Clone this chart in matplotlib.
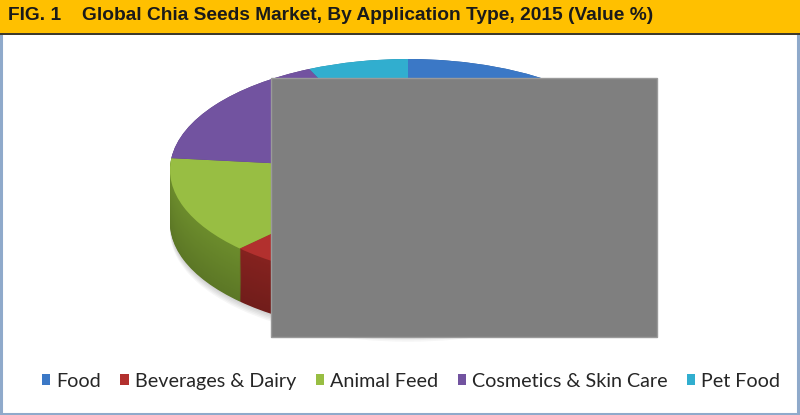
import matplotlib
matplotlib.use('Agg')
import matplotlib.pyplot as plt
import numpy as np
from matplotlib.patches import Rectangle
from matplotlib.colors import to_rgb

# Data (share of 2015 value, %)
categories = ['Food', 'Beverages & Dairy', 'Animal Feed', 'Cosmetics & Skin Care', 'Pet Food']
shares = [48.4, 14.1, 14.2, 16.5, 6.8]

top_colors = ['#3B78C6', '#B2302E', '#98BE43', '#7253A0', '#31AECF']
side_colors = ['#2B5A97', '#85221F', '#6C8C2C', '#553C7A', '#2286A0']

W, H = 800, 415
fig = plt.figure(figsize=(W / 100, H / 100), dpi=100)
fig.patch.set_facecolor('white')

# frame round the figure
fig.patches.append(Rectangle((0.001, 0.002), 0.997, 0.995, transform=fig.transFigure,
                             fill=False, edgecolor='#8FAACB', linewidth=2.2, zorder=0))

# pie axes: top ellipse 170..646 x 59..281 px, wall 53 px deep
depth = 0.4775
ax = fig.add_axes([170 / W, (H - 334) / H, 476 / W, 275 / H])

# soft shadow under the pie
for k in np.linspace(0.0, 0.07, 6):
    ax.pie([1], colors=['#000000'], center=(0, -depth - k), radius=1.0,
           wedgeprops=dict(linewidth=0, alpha=0.035))

# side wall built from stacked pies, darker at the bottom
n_layers = 55
for i, off in enumerate(np.linspace(depth, 0.0, n_layers)):
    f = i / (n_layers - 1)
    cols = [tuple(np.array(to_rgb(c)) * (0.85 + 0.15 * f)) for c in side_colors]
    ax.pie(shares, colors=cols, startangle=90, counterclock=False,
           center=(0, -off), radius=1.0, wedgeprops=dict(linewidth=0))

# top surface
ax.pie(shares, colors=top_colors, startangle=90, counterclock=False,
       center=(0, 0), radius=1.0, wedgeprops=dict(linewidth=0))

ax.set_aspect('auto')
ax.set_xlim(-1, 1)
ax.set_ylim(-1 - depth, 1)
ax.axis('off')

# grey box laid over the chart
fig.patches.append(Rectangle((271 / W, 78 / H), 386 / W, 259 / H, transform=fig.transFigure,
                             facecolor='#7F7F7F', edgecolor='#9A9A9A', linewidth=1, zorder=5))

# title bar
fig.patches.append(Rectangle((0, (H - 33) / H), 1, 33 / H, transform=fig.transFigure,
                             facecolor='#FFC000', edgecolor='none', zorder=6))
fig.patches.append(Rectangle((0, (H - 35) / H), 1, 2.2 / H, transform=fig.transFigure,
                             facecolor='#3E3A2C', edgecolor='none', zorder=6))
title_font = dict(family=['Liberation Sans', 'DejaVu Sans'], fontweight='bold',
                  fontsize=13.8, color='#1A1A1A', va='center', zorder=7)
fig.text(8 / W, (H - 16) / H, 'FIG. 1', **title_font)
fig.text(82 / W, (H - 16) / H,
         'Global Chia Seeds Market, By Application Type, 2015 (Value %)', **title_font)

# legend
handles = [Rectangle((0, 0), 1, 1, facecolor=c, edgecolor='none') for c in top_colors]
leg = fig.legend(handles, categories, loc='center', bbox_to_anchor=(411 / W, 34 / H),
                 ncol=5, frameon=False, handlelength=0.42, handleheight=0.42,
                 handletextpad=0.3, columnspacing=1.0,
                 prop=dict(family=['Lato', 'DejaVu Sans'], size=14.2))
for t in leg.get_texts():
    t.set_color('#262626')

fig.savefig('out.png', dpi=100)
